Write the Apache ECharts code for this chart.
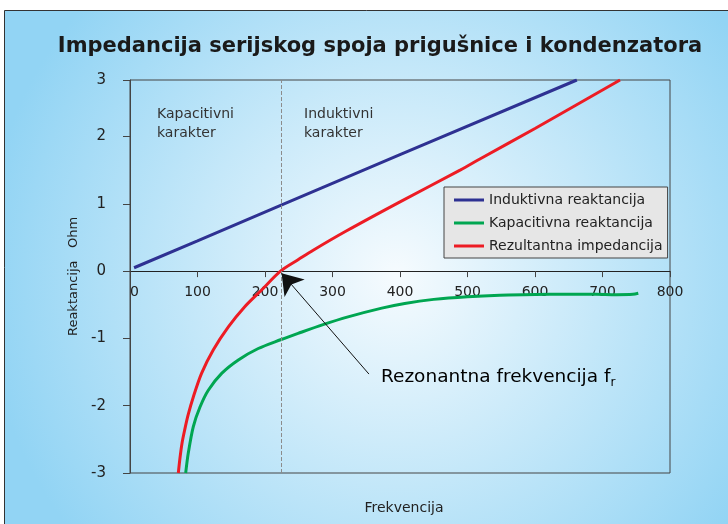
<!DOCTYPE html>
<html>
<head>
<meta charset="utf-8">
<script src="https://cdn.jsdelivr.net/npm/echarts@6/dist/echarts.min.js"></script>
<style>
  body { margin: 0; background: #fff; }
  #main { width: 728px; height: 524px; }
</style>
</head>
<body>
<div id="main"></div>
<script>
// frequency values (Hz) and reactance values (Ohm)
const inductiveF = [6, 100, 224, 400, 662]
const inductiveV = [0.05, 0.45, 0.98, 1.73, 2.84]

const capacitiveF = [82.5, 86.4, 93.8, 103.7, 116, 135.8, 160.5, 190, 223, 249, 286, 323, 373, 407, 450, 500, 548, 622, 690, 721, 745, 753]
const capacitiveV = [-3.0, -2.7, -2.31, -2.02, -1.77, -1.52, -1.32, -1.15, -1.02, -0.925, -0.795, -0.68, -0.55, -0.48, -0.42, -0.38, -0.358, -0.342, -0.345, -0.35, -0.345, -0.33]

const resultF = [71.6, 74, 77, 81, 86, 93.8, 106, 123.5, 145.7, 170, 195, 223, 250, 272, 321, 400, 489, 519, 600, 726]
const resultV = [-3.0, -2.78, -2.56, -2.36, -2.14, -1.87, -1.52, -1.17, -0.83, -0.53, -0.28, 0, 0.175, 0.315, 0.6, 1.03, 1.5, 1.67, 2.12, 2.84]

const resonanceF = 224
const arrowFrom = [354, -1.53]
const arrowTo = [224.5, -0.03]

const xTicks = [0, 800, 100]     // min, max, interval
const yTicks = [-3, 2.84, 1]     // top of plot sits a bit under 3, labelled 3

const toPairs = (xs, ys) => xs.map((x, i) => [x, ys[i]])

const font = 'DejaVu Sans'
const chart = echarts.init(document.getElementById('main'))

// plot box in pixels, x axis is pushed up onto the zero line
const gridTop = 80
const gridBottom = 51
const plotH = 524 - gridTop - gridBottom
const zeroOffset = -plotH * (0 - yTicks[0]) / (yTicks[1] - yTicks[0])

chart.setOption({
  backgroundColor: '#fff',
  animation: false,
  textStyle: { fontFamily: font },
  title: [
    {
      text: 'Impedancija serijskog spoja prigušnice i kondenzatora',
      left: 375,
      textAlign: 'center',
      top: 31,
      textStyle: { fontSize: 21, fontWeight: 'bold', color: '#1a1a1a', fontFamily: font }
    },
    {
      text: 'Frekvencija',
      left: 399,
      textAlign: 'center',
      top: 496,
      textStyle: { fontSize: 14, fontWeight: 'normal', color: '#222', fontFamily: font }
    }
  ],
  graphic: [
    {
      type: 'rect',
      z: -10,
      silent: true,
      shape: { x: 4.5, y: 10.5, width: 740, height: 530 },
      style: {
        fill: new echarts.graphic.RadialGradient(0.53, 0.5, 0.78, [
          { offset: 0, color: '#f6fbfe' },
          { offset: 1, color: '#92d4f4' }
        ]),
        stroke: '#333',
        lineWidth: 1
      }
    },
    {
      type: 'text',
      left: 157,
      top: 105,
      style: { text: 'Kapacitivni\nkarakter', font: '14px "DejaVu Sans"', fill: '#333', lineHeight: 19 }
    },
    {
      type: 'text',
      left: 304,
      top: 105,
      style: { text: 'Induktivni\nkarakter', font: '14px "DejaVu Sans"', fill: '#333', lineHeight: 19 }
    },
    {
      type: 'text',
      left: 381,
      top: 368,
      style: {
        text: '{a|Rezonantna frekvencija f}{b|r}',
        rich: {
          a: { fontSize: 18.5, fontFamily: font, color: '#222' },
          b: { fontSize: 12, fontFamily: font, color: '#222', padding: [11, 0, 0, 0] }
        }
      }
    }
  ],
  legend: {
    left: 444,
    top: 187,
    orient: 'vertical',
    backgroundColor: '#e6e6e6',
    borderColor: '#444',
    borderWidth: 1,
    borderRadius: 0,
    padding: [6, 5, 5, 10],
    itemGap: 9,
    itemWidth: 30,
    itemHeight: 16,
    icon: 'path://M0,0 L30,0 L30,3 L0,3 Z',
    symbolKeepAspect: true,
    textStyle: { fontSize: 14, color: '#222', fontFamily: font },
    data: ['Induktivna reaktancija', 'Kapacitivna reaktancija', 'Rezultantna impedancija']
  },
  grid: {
    left: 130,
    right: 58,
    top: gridTop,
    bottom: gridBottom,
    show: true,
    borderColor: '#444',
    borderWidth: 1
  },
  xAxis: {
    type: 'value',
    position: 'bottom',
    offset: zeroOffset,
    min: xTicks[0],
    max: xTicks[1],
    interval: xTicks[2],
    axisLine: { onZero: false, lineStyle: { color: '#222', width: 1 } },
    axisTick: { show: true, length: 6, lineStyle: { color: '#444' } },
    axisLabel: { margin: 14, fontSize: 14, color: '#222', fontFamily: font, alignMinLabel: 'left' },
    splitLine: { show: false }
  },
  yAxis: {
    type: 'value',
    min: yTicks[0],
    max: yTicks[1],
    interval: yTicks[2],
    name: 'Reaktancija   Ohm',
    nameLocation: 'middle',
    nameGap: 50,
    nameTextStyle: { fontSize: 13, color: '#222', fontFamily: font },
    axisLine: { show: true, onZero: false, lineStyle: { color: '#444', width: 1 } },
    axisTick: { show: true, length: 7, lineStyle: { color: '#444' } },
    axisLabel: {
      margin: 24,
      fontSize: 15,
      color: '#222',
      fontFamily: font,
      formatter: (v) => (v > 2.5 ? '3' : String(v))
    },
    splitLine: { show: false }
  },
  series: [
    {
      name: 'Induktivna reaktancija',
      type: 'line',
      data: toPairs(inductiveF, inductiveV),
      symbol: 'none',
      lineStyle: { color: '#2e3192', width: 3 },
      itemStyle: { color: '#2e3192' },
      markLine: {
        silent: true,
        symbol: 'none',
        label: { show: false },
        lineStyle: { type: 'dashed', color: '#8c8c8c', width: 1 },
        data: [{ xAxis: resonanceF }]
      }
    },
    {
      name: 'Kapacitivna reaktancija',
      type: 'line',
      data: toPairs(capacitiveF, capacitiveV),
      symbol: 'none',
      smooth: 0.3,
      lineStyle: { color: '#00a651', width: 3 },
      itemStyle: { color: '#00a651' }
    },
    {
      name: 'Rezultantna impedancija',
      type: 'line',
      data: toPairs(resultF, resultV),
      symbol: 'none',
      smooth: 0.3,
      lineStyle: { color: '#ed1c24', width: 3 },
      itemStyle: { color: '#ed1c24' },
      markLine: {
        silent: true,
        symbol: ['none', 'arrow'],
        symbolSize: 20,
        label: { show: false },
        lineStyle: { type: 'solid', color: '#111', width: 1 },
        data: [[{ coord: arrowFrom }, { coord: arrowTo }]]
      }
    }
  ]
})
</script>
</body>
</html>
